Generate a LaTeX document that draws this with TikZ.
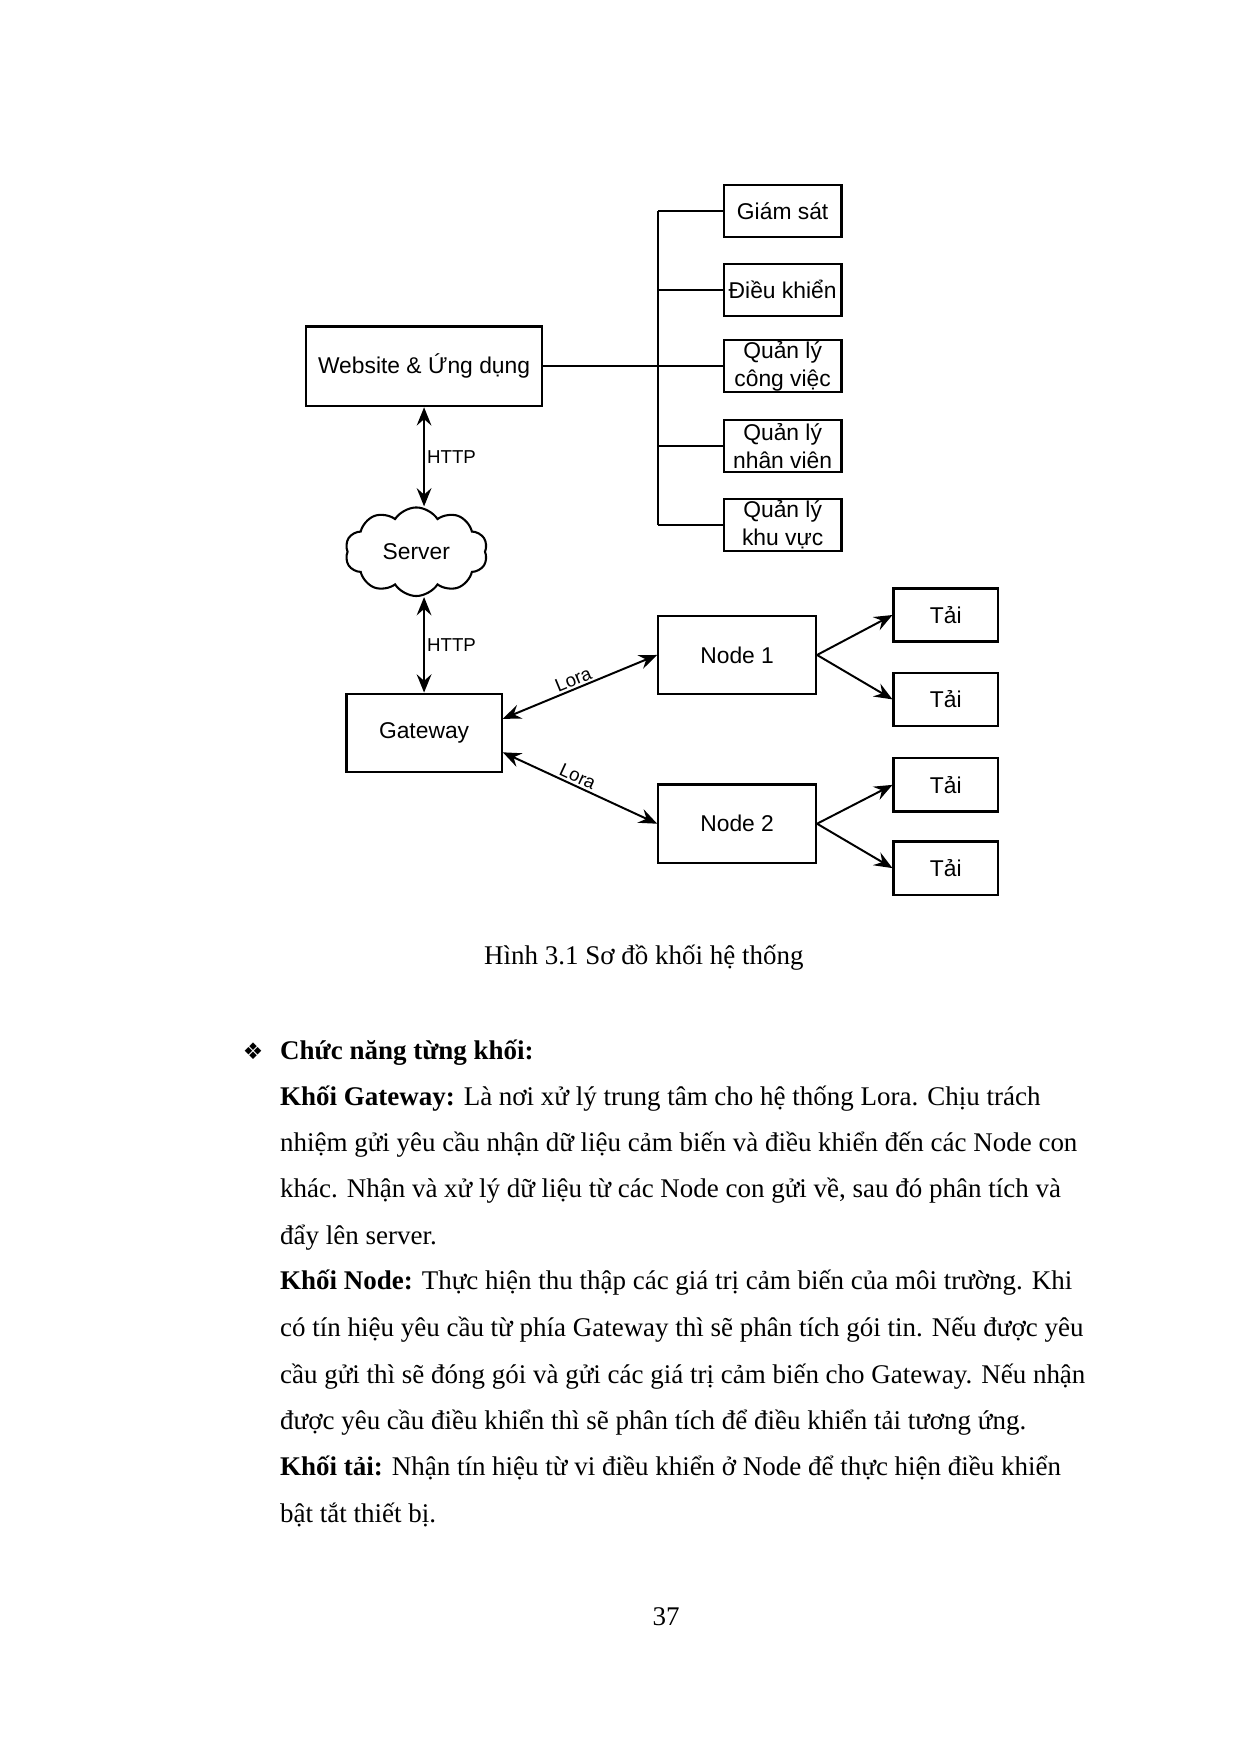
\documentclass[tikz,border=0pt]{standalone}
\usepackage{fontspec}
\setmainfont{Liberation Serif}
\newfontfamily\arial{Liberation Sans}
\newfontfamily\dejavu{DejaVu Sans}
\usetikzlibrary{shapes.symbols,arrows.meta,calc}
\begin{document}
\begin{tikzpicture}[x=0.0188cm,y=-0.0188cm,
  box/.style={draw,line width=1.05pt,inner sep=0pt,align=center,
    font=\arial\fontsize{11pt}{13.5pt}\selectfont},
  fbox/.style={box,minimum width=1.99cm,minimum height=0.88cm},
  tbox/.style={box,minimum width=1.77cm,minimum height=0.90cm},
  nbox/.style={box,minimum width=2.67cm,minimum height=1.33cm},
  link/.style={line width=0.95pt},
  tip/.style={-{Stealth[length=3.1mm,width=2.5mm,inset=1.1mm]}},
  bitip/.style={{Stealth[length=3.1mm,width=2.5mm,inset=1.1mm]}-{Stealth[length=3.1mm,width=2.5mm,inset=1.1mm]}},
  lbl/.style={font=\arial\fontsize{9pt}{10pt}\selectfont,inner sep=1pt},
  body/.style={anchor=base west,inner sep=0pt,font=\fontsize{13pt}{15pt}\selectfont}]
\useasboundingbox[fill=white] (0,0) rectangle (1117,1580);

% upper part
\node[box,minimum width=3.99cm,minimum height=1.35cm] (web) at (382,330) {Website \& Ứng dụng};
\node[fbox] (gs) at (705,190) {Giám sát};
\node[fbox] (dk) at (705,261) {Điều khiển};
\node[fbox] (qlcv) at (705,330) {Quản lý\\công việc};
\node[fbox] (qlnv) at (705,402) {Quản lý\\nhân viên};
\node[fbox] (qlkv) at (705,473) {Quản lý\\khu vực};
\coordinate (bus) at (593,330);
\draw[link] (web.east) -- (web.east -| bus);
\draw[link] (bus |- gs.west) -- (bus |- qlkv.west);
\foreach \b in {gs,dk,qlcv,qlnv,qlkv}{\draw[link] (bus |- \b.west) -- (\b.west);}

% server
\node[draw,cloud,cloud puffs=10,cloud puff arc=115,aspect=1.6,line width=1pt,
  minimum width=2.41cm,minimum height=1.50cm,inner sep=0pt,
  font=\arial\fontsize{11pt}{13pt}\selectfont] (srv) at (375,497) {Server};
\draw[link,bitip] (web.south) -- node[lbl,right] {HTTP} (web.south |- srv.north);

% gateway and nodes
\node[box,minimum width=2.63cm,minimum height=1.32cm] (gw) at (382,660) {Gateway};
\draw[link,bitip] (gw.north |- srv.south) -- node[lbl,right] {HTTP} (gw.north);
\node[nbox] (n1) at (664,590) {Node 1};
\node[nbox] (n2) at (664,742) {Node 2};
\draw[link,bitip] (gw.10) -- node[lbl,above,sloped,pos=0.48] {Lora} (n1.west);
\draw[link,bitip] (gw.-14) -- node[lbl,above,sloped,pos=0.46] {Lora} (n2.west);

\node[tbox] (t1) at (852,554) {Tải};
\node[tbox] (t2) at (852,630) {Tải};
\node[tbox] (t3) at (852,707) {Tải};
\node[tbox] (t4) at (852,782) {Tải};
\draw[link,tip] (n1.east) -- (t1.west);
\draw[link,tip] (n1.east) -- (t2.west);
\draw[link,tip] (n2.east) -- (t3.west);
\draw[link,tip] (n2.east) -- (t4.west);

% caption
\node[anchor=base,inner sep=0pt,font=\fontsize{13pt}{15pt}\selectfont] (cap) at (580,869) {Hình 3.1 Sơ đồ khối hệ thống};

% body text
\node[anchor=base,inner sep=0pt,font=\dejavu\fontsize{11pt}{13pt}\selectfont] (bul) at (228,954) {❖};
\node[body] (h) at (252,954) {\textbf{Chức năng từng khối:}};
\node[body] (l1) at (252,996) {\textbf{Khối Gateway:} Là nơi xử lý trung tâm cho hệ thống Lora. Chịu trách};
\node[body] (l2) at (252,1037) {nhiệm gửi yêu cầu nhận dữ liệu cảm biến và điều khiển đến các Node con};
\node[body] (l3) at (252,1079) {khác. Nhận và xử lý dữ liệu từ các Node con gửi về, sau đó phân tích và};
\node[body] (l4) at (252,1121) {đẩy lên server.};
\node[body] (l5) at (252,1162) {\textbf{Khối Node:} Thực hiện thu thập các giá trị cảm biến của môi trường. Khi};
\node[body] (l6) at (252,1204) {có tín hiệu yêu cầu từ phía Gateway thì sẽ phân tích gói tin. Nếu được yêu};
\node[body] (l7) at (252,1246) {cầu gửi thì sẽ đóng gói và gửi các giá trị cảm biến cho Gateway. Nếu nhận};
\node[body] (l8) at (252,1288) {được yêu cầu điều khiển thì sẽ phân tích để điều khiển tải tương ứng.};
\node[body] (l9) at (252,1329) {\textbf{Khối tải:} Nhận tín hiệu từ vi điều khiển ở Node để thực hiện điều khiển};
\node[body] (l10) at (252,1371) {bật tắt thiết bị.};

% page number
\node[anchor=base,inner sep=0pt,font=\fontsize{13pt}{15pt}\selectfont] (pg) at (600,1464) {37};
\end{tikzpicture}
\end{document}
